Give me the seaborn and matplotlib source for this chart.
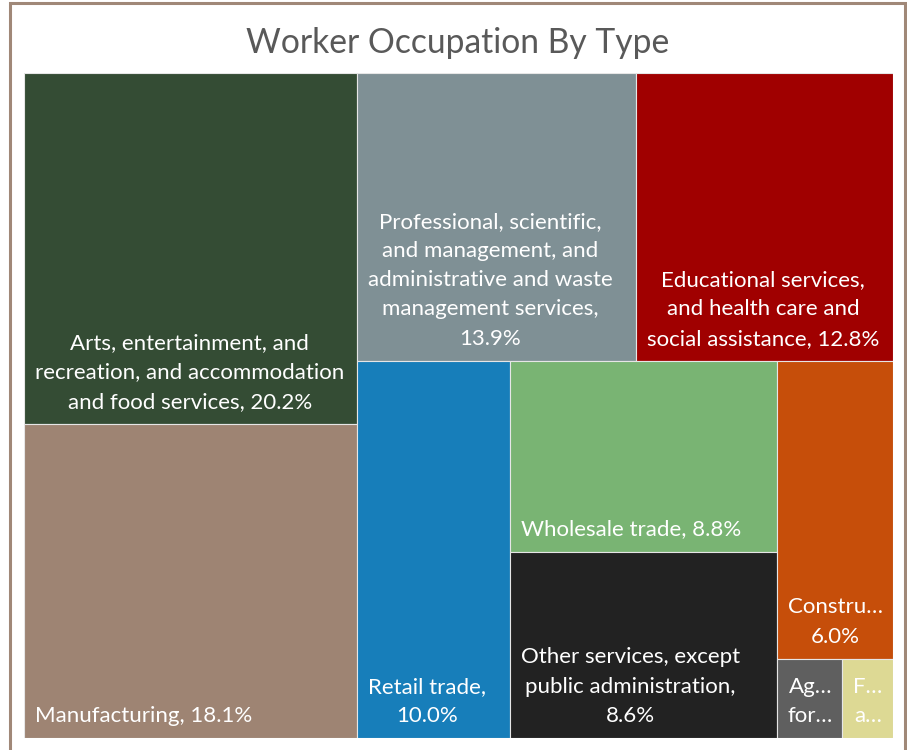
import matplotlib
matplotlib.use("Agg")
import matplotlib.pyplot as plt
from matplotlib.patches import Rectangle
import seaborn as sns

# data (percent of workers)
categories = [
    "Arts, entertainment, and\nrecreation, and accommodation\nand food services,",
    "Manufacturing,",
    "Professional, scientific,\nand management, and\nadministrative and waste\nmanagement services,",
    "Educational services,\nand health care and\nsocial assistance,",
    "Retail trade,",
    "Wholesale trade,",
    "Other services, except\npublic administration,",
    "Constru\u2026",
    "Ag\u2026\nfor\u2026",
    "F\u2026\na\u2026",
]
shares = [20.2, 18.1, 13.9, 12.8, 10.0, 8.8, 8.6, 6.0, 0.9, 0.7]
# what goes between the name and the value ("" = value hidden)
value_sep = [" ", " ", "\n", " ", "\n", " ", "\n", "\n", "", ""]

# how the tiles are grouped into strips (Excel layout order)
strip_sizes = [2, 2, 1, 2, 1, 1, 1]

colors = ["#344C34", "#9E8473", "#7F9095", "#A00000", "#177EBA",
          "#79B473", "#222222", "#C64E0A", "#5F5F5F", "#DDD994"]

sns.set_theme(style="white")
plt.rcParams["font.family"] = ["Lato", "DejaVu Sans"]

fig = plt.figure(figsize=(9.07, 7.5), dpi=100)
ax = fig.add_axes([24 / 907, 12 / 750, 869 / 907, 665 / 750])
W, H = 8.69, 6.65  # axes size in inches, used as data units
ax.set_xlim(0, W)
ax.set_ylim(H, 0)
ax.axis("off")


def strip_layout(vals, sizes, x0, y0, w, h):
    rects = []
    i = 0
    remaining = sum(vals)
    for n in sizes:
        grp = vals[i:i + n]
        s = sum(grp)
        frac = s / remaining
        if w >= h:
            sw = w * frac
            yy = y0
            for v in grp:
                hh = h * v / s
                rects.append((x0, yy, sw, hh))
                yy += hh
            x0, w = x0 + sw, w - sw
        else:
            sh = h * frac
            xx = x0
            for v in grp:
                ww = w * v / s
                rects.append((xx, y0, ww, sh))
                xx += ww
            y0, h = y0 + sh, h - sh
        remaining -= s
        i += n
    return rects


rects = strip_layout(shares, strip_sizes, 0, 0, W, H)

ax.bar([r[0] for r in rects], [r[3] for r in rects], width=[r[2] for r in rects],
       bottom=[r[1] for r in rects], align="edge", color=colors,
       edgecolor="#E6E6E6", linewidth=0.8)

pad = 0.11
for (x, y, w, h), name, v, sep in zip(rects, categories, shares, value_sep):
    label = name + (sep + f"{v:.1f}%" if sep else "")
    ax.text(x + pad, y + h - pad - 0.01, label, ha="left", va="bottom",
            multialignment="center", color="white", fontsize=16, linespacing=1.58)

fig.text(0.505, 1 - 43 / 750, "Worker Occupation By Type", ha="center", va="center",
         fontsize=24.2, color="#595959")

fig.patches.append(Rectangle((10 / 907, -0.05), 895 / 907, 1.05 - 3 / 750,
                             transform=fig.transFigure, fill=False,
                             edgecolor="#A08878", linewidth=2.2))

fig.savefig("out.png", dpi=100)
